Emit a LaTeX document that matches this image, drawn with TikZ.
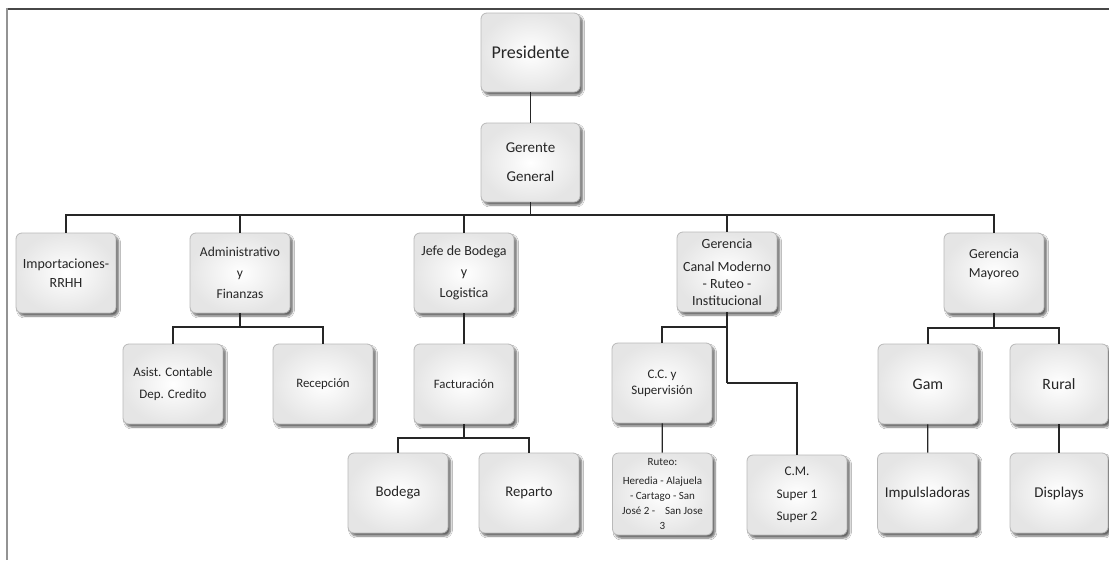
\documentclass[tikz,border=0pt]{standalone}
\usepackage{fontspec}
\setmainfont{Carlito}
\usetikzlibrary{shadows,shadows.blur}
\newcommand\orgfont[2]{\fontsize{#1}{#2}\selectfont}
\tikzset{
  orgbox/.style={draw=gray!55, line width=0.8pt, rounded corners=6pt,
    inner color=white, outer color=gray!20,
    blur shadow={shadow xshift=2.5pt, shadow yshift=-3pt, shadow blur steps=6, shadow opacity=60},
    minimum width=100pt, minimum height=80pt, inner sep=1pt,
    align=center, text=black!85},
  link/.style={line width=1.3pt, draw=black!85},
  frameline/.style={line width=2pt},
}
\begin{document}
\begin{tikzpicture}[x=1pt,y=-1pt]
\useasboundingbox (0,0) rectangle (1109,560);
\fill[white] (0,0) rectangle (1109,560);
% page frame
\draw[frameline, black!72] (6,8.5) -- (1109,8.5);
\draw[frameline, gray!85] (6.5,8) -- (6.5,560);

% top levels
\node[orgbox, minimum width=99pt, minimum height=79pt, font=\orgfont{18}{22}] (pres) at (530.5,52.5) {Presidente};
\node[orgbox, minimum width=99pt, minimum height=79pt, font=\orgfont{15}{29}] (gg) at (530.5,162.5) {Gerente\\General};

% second level
\node[orgbox, font=\orgfont{14}{19}] (imp) at (66,273) {Importaciones-\\RRHH};
\node[orgbox, font=\orgfont{13.5}{21}] (adm) at (240,273) {Administrativo\\y\\Finanzas};
\node[orgbox, font=\orgfont{14}{21}] (jefe) at (464,273) {Jefe de Bodega\\y\\Logistica};
\node[orgbox, font=\orgfont{14}{17}] (canal) at (727,272) {Gerencia\\[6pt]Canal Moderno\\- Ruteo -\\Institucional};
\node[orgbox, font=\orgfont{13.8}{19}] (may) at (994,273) {Gerencia\\Mayoreo\\~};

% third level
\node[orgbox, font=\orgfont{13}{22}] (asis) at (173,384) {Asist. Contable\\Dep. Credito};
\node[orgbox, font=\orgfont{12.8}{16}] (rec) at (323,384) {Recepción};
\node[orgbox, font=\orgfont{12.8}{16}] (fac) at (464,384) {Facturación};
\node[orgbox, font=\orgfont{13}{16}] (cc) at (662,383) {C.C. y\\Supervisión};
\node[orgbox, font=\orgfont{16}{19}] (gam) at (928,384) {Gam};
\node[orgbox, minimum width=98pt, font=\orgfont{15.7}{19}] (rural) at (1059,384) {Rural};

% fourth level
\node[orgbox, font=\orgfont{14.8}{18}] (bod) at (398,493) {Bodega};
\node[orgbox, font=\orgfont{14.7}{18}] (rep) at (529,493) {Reparto};
\node[orgbox, minimum height=82pt, font=\orgfont{11}{15}] (rut) at (662.5,494) {Ruteo:\\[4pt]Heredia - Alajuela\\- Cartago - San\\José 2 -\hspace{0.9em}San Jose\\3};
\node[orgbox, font=\orgfont{13.2}{22.5}] (cm) at (797,495) {C.M.\\Super 1\\Super 2};
\node[orgbox, font=\orgfont{15}{18}] (imp2) at (927.5,493) {Impulsladoras};
\node[orgbox, minimum width=98pt, font=\orgfont{15}{18}] (disp) at (1059,493) {Displays};

% bus junctions
\coordinate (busA) at (530.5,215);
\coordinate (busB) at (240,327);
\coordinate (busC) at (464,438);
\coordinate (busD) at (727,327);
\coordinate (busE) at (727,383);
\coordinate (busF) at (994,328);

% connectors
\draw[link] (pres) -- (gg);
\draw[link] (gg) -- (busA);
\foreach \n in {imp,adm,jefe,canal,may} \draw[link] (busA) -| (\n.north);
\draw[link] (adm) -- (busB);
\draw[link] (busB) -| (asis.north);
\draw[link] (busB) -| (rec.north);
\draw[link] (jefe) -- (fac);
\draw[link] (fac) -- (busC);
\draw[link] (busC) -| (bod.north);
\draw[link] (busC) -| (rep.north);
\draw[link] (canal) -- (busD) -- (busE);
\draw[link] (busD) -| (cc.north);
\draw[link] (busE) -| (cm.north);
\draw[link] (cc) -- (rut);
\draw[link] (may) -- (busF);
\draw[link] (busF) -| (gam.north);
\draw[link] (busF) -| (rural.north);
\draw[link] (gam) -- (imp2);
\draw[link] (rural) -- (disp);
\end{tikzpicture}
\end{document}
